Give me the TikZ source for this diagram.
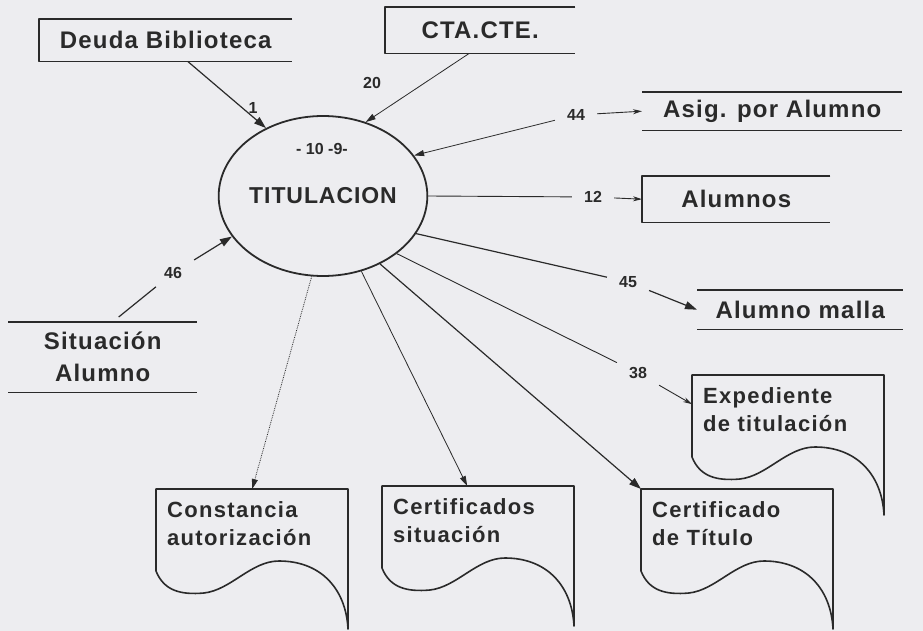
\documentclass[tikz,border=0pt]{standalone}
\usepackage{fontspec}
\setmainfont{Liberation Sans}[LetterSpace=5]
\usetikzlibrary{shapes.geometric,arrows.meta}
\definecolor{paper}{RGB}{237,237,240}
\definecolor{ink}{RGB}{42,42,42}
\tikzset{
  wall/.style={line width=1.6pt,line join=round},
  store/.style={inner sep=0pt,align=center,font=\bfseries\fontsize{24}{32}\selectfont},
  doc/.style={anchor=north west,minimum width=192pt,minimum height=68pt,text width=170pt,
    inner xsep=11pt,align=left,font=\bfseries\fontsize{22}{28}\selectfont\addfontfeature{LetterSpace=6}},
  lbl/.style={inner xsep=12pt,inner ysep=8pt,font=\bfseries\fontsize{16}{18}\selectfont\addfontfeature{LetterSpace=0}},
  flow/.style={line width=1.2pt,-{Triangle[length=12pt,width=8pt]}},
  thinflow/.style={line width=0.8pt,-{Triangle[length=10pt,width=6pt]}},
  smallflow/.style={line width=0.9pt,-{Stealth[length=9pt,width=5pt]}},
  dotflow/.style={thinflow,densely dotted}
}
\newcommand{\openstore}[6]{\node[store,minimum width=#3pt,minimum height=#4pt,anchor=north west] (#5) at (#1,#2) {#6};
  \draw[wall] (#5.north east) -- (#5.north west) -- (#5.south west) -- (#5.south east);}
\newcommand{\flatstore}[6]{\node[store,minimum width=#3pt,minimum height=#4pt,anchor=north west] (#5) at (#1,#2) {#6};
  \draw[wall] (#5.north west) -- (#5.north east) (#5.south west) -- (#5.south east);}
\newcommand{\docnode}[4]{\node[doc] (#3) at (#1,#2) {#4};
  \draw[wall,shift={(#1,#2)}] (192,0) -- (0,0) -- (0,82) .. controls (8,102) and (25,106) .. (48,104)
    .. controls (75,101) and (95,72) .. (123,72) .. controls (165,72) and (190,100) .. (192,140) -- cycle;}

\begin{document}
\begin{tikzpicture}[x=1pt,y=-1pt,color=ink]
  \fill[paper] (0,0) rectangle (923,631);
  \node[ellipse,draw,line width=1.8pt,minimum width=196pt,minimum height=160pt,inner sep=0pt,
    font=\bfseries\fontsize{23}{26}\selectfont\addfontfeature{LetterSpace=4}] (tit) at (323,196) {TITULACION};
  \node[font=\bfseries\fontsize{16}{18}\selectfont\addfontfeature{LetterSpace=0}] (tid) at (322,149) {- 10 -9-};
  \openstore{39}{19}{253}{42}{deuda}{Deuda Biblioteca}
  \openstore{385}{7}{190}{46}{cta}{CTA.CTE.}
  \flatstore{642}{92}{260}{38}{asig}{Asig. por Alumno}
  \openstore{642}{176}{188}{46}{alum}{Alumnos}
  \flatstore{697}{290}{206}{39}{malla}{Alumno malla}
  \flatstore{8}{322}{189}{70}{sitalum}{Situación\\Alumno}
  \docnode{156}{489}{const}{Constancia\\autorización}
  \docnode{382}{486}{certsit}{Certificados\\situación}
  \docnode{641}{489}{certit}{Certificado\\de Título}
  \docnode{692}{375}{exped}{Expediente\\de titulación}
  \node[lbl] (n1) at (253,108) {1};
  \node[lbl] (n20) at (372,83) {20};
  \node[lbl] (n44) at (576,115) {44};
  \node[lbl] (n12) at (593,197) {12};
  \node[lbl] (n45) at (628,282) {45};
  \node[lbl] (n38) at (638,373) {38};
  \node[lbl] (n46) at (173,273) {46};
  \draw[flow] ([xshift=22pt]deuda.south) -- (tit.130);
  \draw[thinflow] ([xshift=-11pt]cta.south) -- (tit.60);
  \draw[thinflow] (n44) -- (tit.24);
  \draw[smallflow] (n44) -- (asig.west);
  \draw[smallflow] (tit.0) -- (n12) -- (alum.west);
  \draw[flow] (tit.-22) -- (n45) -- (malla.west);
  \draw[smallflow] (tit.-38) -- (n38) -- ([yshift=5pt]exped.west);
  \draw[flow] ([xshift=16pt,yshift=5pt]sitalum.north) -- (n46) -- (tit.204);
  \draw[dotflow] (tit.-98) -- (const.north);
  \draw[thinflow] (tit.-63) -- ([xshift=-11pt]certsit.north);
  \draw[flow] (tit.-50) -- (certit.north west);
\end{tikzpicture}
\end{document}
